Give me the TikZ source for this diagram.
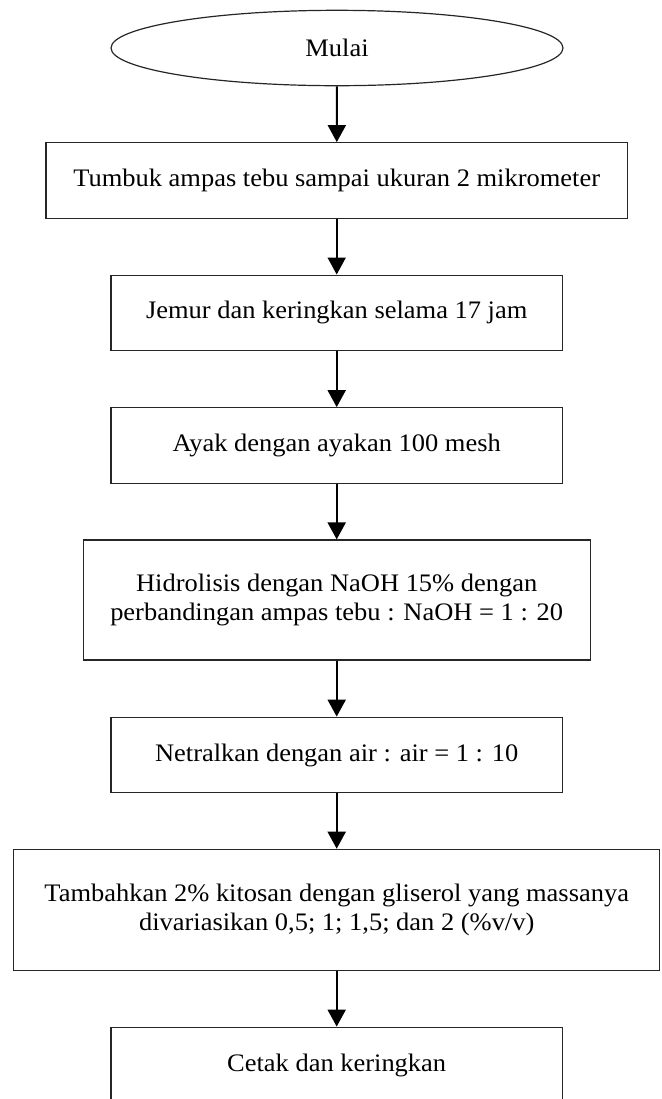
\documentclass[tikz,border=0pt]{standalone}
\usepackage{fontspec}
\setmainfont{Liberation Serif}[FakeStretch=1.05]
\usetikzlibrary{shapes.geometric,arrows.meta}
\begin{document}
\begin{tikzpicture}[x=0.5pt,y=-0.5pt,
  every node/.style={font=\fontsize{12.6}{14.5}\selectfont, inner sep=0pt, align=center},
  stepbox/.style={draw=black!85, line width=0.6pt, rectangle, minimum height=37.8pt},
  startbox/.style={draw=black!85, line width=0.6pt, ellipse, minimum width=226pt, minimum height=37.7pt},
  flow/.style={line width=1pt, -{Triangle[width=9pt,length=8.5pt]}}]
\useasboundingbox (0,0) rectangle (662,1099);
\node[startbox] (start) at (337,48) {Mulai};
\node[stepbox, minimum width=290.7pt] (b1) at (336.7,180.5) {Tumbuk ampas tebu sampai ukuran 2 mikrometer};
\node[stepbox, minimum width=225.7pt] (b2) at (336.7,312.9) {Jemur dan keringkan selama 17 jam};
\node[stepbox, minimum width=225.7pt] (b3) at (336.7,445.5) {Ayak dengan ayakan 100 mesh};
\node[stepbox, minimum width=253.4pt, minimum height=60pt] (b4) at (336.7,600) {Hidrolisis dengan NaOH 15\% dengan\\perbandingan ampas tebu : NaOH = 1 : 20};
\node[stepbox, minimum width=225.7pt] (b5) at (336.7,755) {Netralkan dengan air : air = 1 : 10};
\node[stepbox, minimum width=323pt, minimum height=60.7pt] (b6) at (336.7,910) {Tambahkan 2\% kitosan dengan gliserol yang massanya\\divariasikan 0,5; 1; 1,5; dan 2 (\%v/v)};
\node[stepbox, minimum width=225.7pt] (b7) at (336.7,1065) {Cetak dan keringkan};
\draw[flow] (start) -- (b1);
\draw[flow] (b1) -- (b2);
\draw[flow] (b2) -- (b3);
\draw[flow] (b3) -- (b4);
\draw[flow] (b4) -- (b5);
\draw[flow] (b5) -- (b6);
\draw[flow] (b6) -- (b7);
\end{tikzpicture}
\end{document}
